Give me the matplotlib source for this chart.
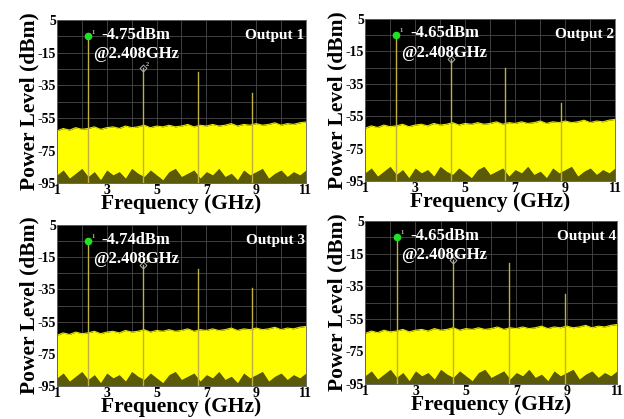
import numpy as np
import matplotlib.pyplot as plt

# spectrum analyzer captures, four outputs
outputs = ['Output 1', 'Output 2', 'Output 3', 'Output 4']
peak_text = ['-4.75dBm', '-4.65dBm', '-4.74dBm', '-4.65dBm']
peak_freqs = [
    [2.25, 4.45, 6.65, 8.85],
    [2.25, 4.45, 6.60, 8.85],
    [2.25, 4.45, 6.65, 8.85],
    [2.27, 4.50, 6.72, 8.92],
]
peak_levels = [
    [-4.75, -24.5, -27, -40],
    [-4.65, -20, -25, -47],
    [-4.74, -20, -22, -34],
    [-4.65, -19, -21, -40],
]
floor_shift = [0.0, 0.5, -0.5, -1.0]

# noise floor envelopes, every 0.25 GHz from 1 to 11 GHz
noise_freq = np.arange(1, 11.01, 0.25)
noise_top = [-63, -61.5, -62.5, -61, -62, -61.5, -60.5, -62, -61, -60.5,
             -61.5, -60, -61, -60.5, -59.5, -61, -60, -60.5, -59.5, -60.5,
             -60, -59, -60.5, -59.5, -60, -59, -60, -59.5, -58.5, -60,
             -59, -59.5, -58.5, -59.5, -59, -58, -59.5, -58.5, -59, -58, -57.5]
noise_bottom = [-90, -87, -92, -89, -86, -91, -88, -93, -87, -90,
                -88, -92, -86, -89, -91, -87, -90, -93, -88, -86,
                -91, -89, -87, -92, -88, -90, -86, -91, -89, -93,
                -87, -90, -88, -86, -92, -89, -87, -91, -88, -90, -87]

x_ticks = [1, 3, 5, 7, 9, 11]
y_ticks = [5, -15, -35, -55, -75, -95]

plt.rcParams['font.family'] = ['Liberation Serif', 'DejaVu Serif']
plt.rcParams['font.weight'] = 'bold'

fig = plt.figure(figsize=(6.24, 4.19), dpi=100)
rects = [
    [0.0913, 0.563, 0.399, 0.389],
    [0.585, 0.568, 0.401, 0.387],
    [0.0913, 0.0788, 0.399, 0.384],
    [0.585, 0.0835, 0.404, 0.389],
]

for i in range(4):
    ax = fig.add_axes(rects[i])
    ax.set_facecolor('black')
    top = np.array(noise_top) + floor_shift[i]
    bot = np.array(noise_bottom)
    ax.fill_between(noise_freq, -95, bot, color='#5a5a08', lw=0, zorder=1)
    ax.fill_between(noise_freq, bot, top, color='#ffff00', lw=0, zorder=2)
    ax.plot(noise_freq, top, color='#e6e600', lw=0.8, zorder=2)
    for f, lv in zip(peak_freqs[i], peak_levels[i]):
        ax.plot([f, f], [-95, lv], color='#c0b040', lw=1.0, zorder=3)
    # markers 1 and 2
    ax.plot(peak_freqs[i][0], peak_levels[i][0], 'o', color='#22e022',
            ms=4.5, zorder=4)
    ax.text(peak_freqs[i][0] + 0.12, peak_levels[i][0] + 1.5, '1',
            color='#c8c8a0', fontsize=4.5, zorder=4)
    ax.plot(peak_freqs[i][1], peak_levels[i][1], 'D', mfc='none',
            mec='#b0b0b0', ms=3.5, mew=0.7, zorder=4)
    ax.text(peak_freqs[i][1] + 0.12, peak_levels[i][1] + 1.5, '2',
            color='#c8c8a0', fontsize=4.5, zorder=4)

    ax.text(2.8, -4, peak_text[i], color='white', fontsize=12,
            fontweight='bold', va='center', zorder=5)
    ax.text(2.45, -16, '@2.408GHz', color='white', fontsize=12,
            fontweight='bold', va='center', zorder=5)
    ax.text(10.95, -4.5, outputs[i], color='white', fontsize=11,
            fontweight='bold', ha='right', va='center', zorder=5)

    ax.set_xlim(1, 11)
    ax.set_ylim(-95, 5)
    ax.set_xticks(np.arange(1, 11.01, 1), minor=True)
    ax.set_yticks(np.arange(-95, 5.01, 10), minor=True)
    ax.set_xticks(x_ticks)
    ax.set_yticks(y_ticks)
    ax.set_xticklabels([str(t) for t in x_ticks])
    ax.set_yticklabels([str(t) for t in y_ticks])
    ax.grid(which='both', color='#4a4a4a', lw=0.6)
    ax.set_axisbelow(True)
    ax.tick_params(which='both', length=0, pad=0.5, labelsize=10)
    for s in ax.spines.values():
        s.set_color('#606060')
        s.set_linewidth(0.6)
    ax.set_xlabel('Frequency (GHz)', fontsize=15.5, fontweight='bold',
                  labelpad=-2)
    ax.set_ylabel('Power Level (dBm)', fontsize=15.5, fontweight='bold',
                  labelpad=-1)

fig.savefig('out.png', dpi=100)
